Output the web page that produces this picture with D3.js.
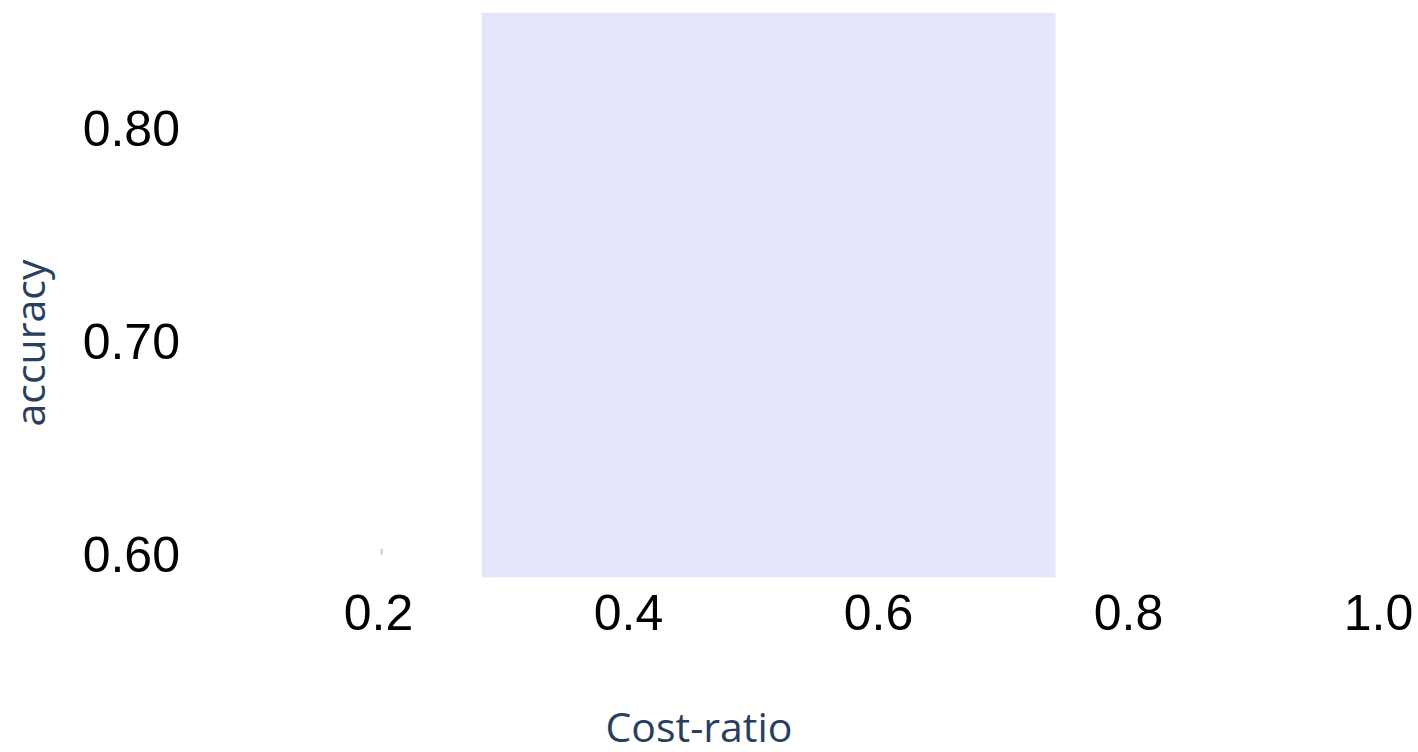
<!DOCTYPE html>
<meta charset="utf-8">
<style>
body { margin: 0; background: #fff; }
.tick text {
  font-family: "Liberation Sans", Arial, sans-serif;
  font-size: 50px;
  fill: #000;
}
.title {
  font-family: "Open Sans", sans-serif;
  font-size: 41px;
  fill: #2a3f5f;
}
</style>

<div id="chart"></div>
<script src="https://d3js.org/d3.v7.min.js"></script>
<script>
var w = 1418,
  h = 752;

// tick values
var xTicks = [0.2, 0.4, 0.6, 0.8, 1.0],
  yTicks = [0.6, 0.7, 0.8];

// shaded band: [x0, x1] and [y0, y1] in data units
var bandX = [0.283, 0.742],
  bandY = [0.590, 0.855];

// lone point
var pointX = [0.203],
  pointY = [0.602];

var svg = d3.select("#chart")
  .append("svg")
  .attr("width", w)
  .attr("height", h);

var x = d3.scaleLinear().domain([0.2, 1.0]).range([378, 1378]),
  y = d3.scaleLinear().domain([0.6, 0.8]).range([556, 130]);

// lavender band
svg.append("rect")
  .attr("x", x(bandX[0]))
  .attr("y", y(bandY[1]))
  .attr("width", x(bandX[1]) - x(bandX[0]))
  .attr("height", y(bandY[0]) - y(bandY[1]))
  .attr("fill", "#e5e5fb");

// tiny grey marker
svg.selectAll(".pt")
  .data(pointX)
  .enter()
  .append("rect")
  .attr("class", "pt")
  .attr("x", function (d) { return x(d) - 1; })
  .attr("y", function (d, i) { return y(pointY[i]) - 3; })
  .attr("width", 2)
  .attr("height", 6)
  .attr("fill", "#cccccc");

var xAxis = d3.axisBottom(x)
  .tickValues(xTicks)
  .tickSize(0)
  .tickFormat(d3.format(".1f"));

var yAxis = d3.axisLeft(y)
  .tickValues(yTicks)
  .tickSize(0)
  .tickFormat(d3.format(".2f"));

var gx = svg.append("g")
  .attr("transform", "translate(0, 612)")
  .call(xAxis);
gx.select(".domain").remove();
gx.selectAll(".tick text")
  .attr("y", 0)
  .attr("dy", "0.35em");

var gy = svg.append("g")
  .attr("transform", "translate(180, 0)")
  .call(yAxis);
gy.select(".domain").remove();
gy.selectAll(".tick text")
  .attr("x", 0)
  .attr("dy", "0.3em");

// axis titles
svg.append("text")
  .attr("class", "title")
  .attr("x", 699)
  .attr("y", 742)
  .attr("text-anchor", "middle")
  .text("Cost-ratio");

svg.append("text")
  .attr("class", "title")
  .attr("transform", "translate(45, 343) rotate(-90)")
  .attr("text-anchor", "middle")
  .text("accuracy");
</script>
